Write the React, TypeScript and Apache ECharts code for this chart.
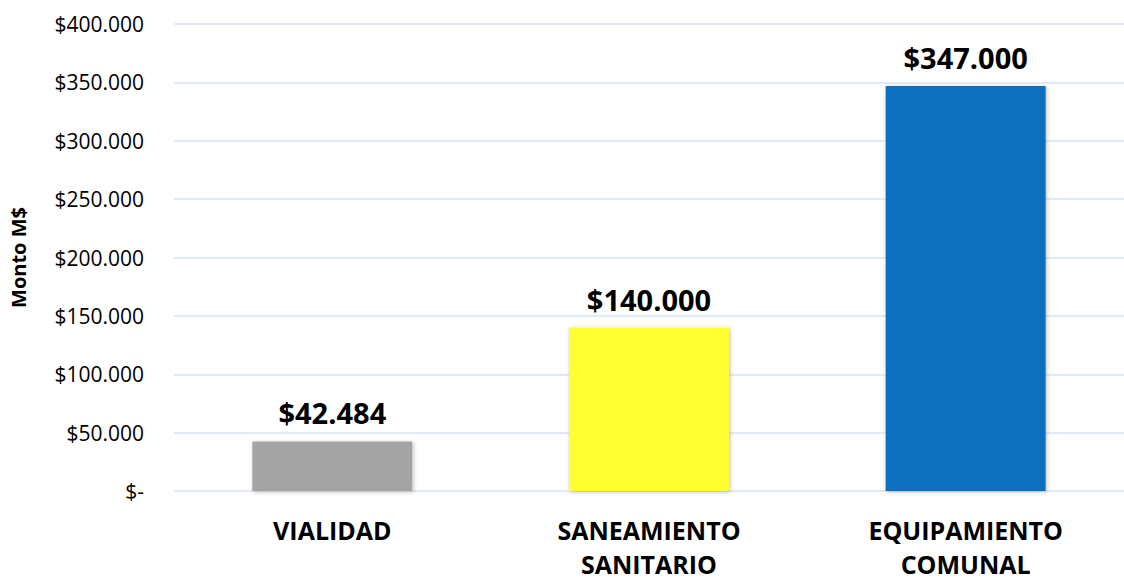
import React, { useEffect, useRef } from "react";
import * as echarts from "echarts";

const categories = ["VIALIDAD", "SANEAMIENTO\nSANITARIO", "EQUIPAMIENTO\nCOMUNAL"];
const values = [42484, 140000, 347000];
const barColors = ["#A5A5A5", "#FFFF33", "#1170BE"];
const yMin = 0;
const yMax = 400000;
const yInterval = 50000;

const fmt = (v: number) => {
  if (v === 0) return "$-";
  return "$" + Math.round(v).toString().replace(/\B(?=(\d{3})+(?!\d))/g, ".");
};

export default function App() {
  const ref = useRef<HTMLDivElement>(null);
  useEffect(() => {
    if (!ref.current) return;
    const chart = echarts.init(ref.current, undefined, { renderer: "svg" });
    const font = "'Open Sans', 'Noto Sans', sans-serif";
    chart.setOption({
      animation: false,
      grid: { left: 172, right: -8, top: 24, bottom: 88 },
      xAxis: {
        type: "category",
        data: categories,
        axisLine: { show: false },
        axisTick: { show: false },
        axisLabel: {
          fontFamily: font,
          fontWeight: "bold",
          fontSize: 25,
          color: "#000",
          margin: 22,
          lineHeight: 34,
        },
      },
      yAxis: {
        type: "value",
        min: yMin,
        max: yMax,
        interval: yInterval,
        name: "Monto M$",
        nameLocation: "middle",
        nameGap: 146,
        nameTextStyle: { fontFamily: font, fontWeight: "bold", fontSize: 20, color: "#000" },
        axisLabel: {
          fontFamily: font,
          fontSize: 21,
          color: "#000",
          margin: 30,
          formatter: (v: number) => fmt(v),
        },
        splitLine: { lineStyle: { color: "#D9E3F2", width: 1.5 } },
      },
      series: [
        {
          type: "bar",
          barWidth: 160,
          data: values.map((v, i) => ({
            value: v,
            itemStyle: {
              color: barColors[i],
              shadowColor: "rgba(0,0,0,0.25)",
              shadowBlur: 4,
              shadowOffsetX: 1,
              shadowOffsetY: 1,
            },
          })),
          label: {
            show: true,
            position: "top",
            distance: 14,
            fontFamily: font,
            fontWeight: "bold",
            fontSize: 29,
            color: "#000",
            formatter: (p: any) => fmt(p.value),
          },
        },
      ],
    });
    return () => chart.dispose();
  }, []);
  return (
    <div
      ref={ref}
      style={{ position: "fixed", left: 0, top: 0, width: 1124, height: 581, background: "#fff" }}
    />
  );
}
